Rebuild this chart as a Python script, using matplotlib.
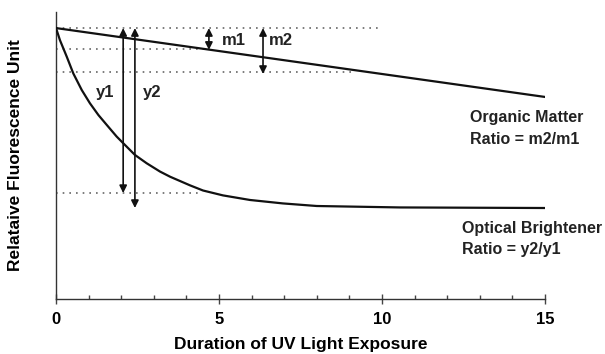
import matplotlib
matplotlib.use('Agg')
from matplotlib import pyplot as plt
from matplotlib.ticker import MultipleLocator

plt.rcParams['font.family'] = ['Liberation Sans', 'DejaVu Sans']
plt.rcParams['font.weight'] = 'bold'

# organic matter decay (straight, slow)
om_x = [0, 2, 4, 6, 8, 10, 12, 14, 15]
om_y = [94.4, 91.2, 88.0, 84.8, 81.6, 78.4, 75.2, 72.0, 70.4]

# optical brightener decay (fast, levels off)
ob_x = [0, 0.12, 0.33, 0.53, 0.79, 1.04, 1.30, 1.56, 1.86, 2.06, 2.42, 2.78,
        3.19, 3.50, 4.11, 4.51, 5.12, 5.95, 6.96, 8.0, 9.02, 10.55, 15]
ob_y = [94.4, 90.2, 84.4, 78.6, 72.8, 68.2, 64.1, 60.6, 56.6, 54.3, 50.2, 47.3,
        44.4, 42.6, 39.6, 37.8, 36.1, 34.5, 33.3, 32.4, 32.2, 31.9, 31.7]

# dotted reference levels and where they stop
ref_levels = [94.4, 87.1, 79.1, 36.9]
ref_ends = [9.95, 4.7, 9.2, 4.42]

# double arrows and their labels
arrow_x = [2.06, 2.42, 4.69, 6.35]
arrow_top = [94.4, 94.4, 94.4, 94.4]
arrow_bot = [36.9, 31.7, 86.8, 78.4]
arrow_lbl = ['y1', 'y2', 'm1', 'm2']
lbl_x = [1.5, 2.94, 5.46, 6.9]
lbl_y = [72.1, 72.1, 89.9, 89.9]

x_ticks = [0, 5, 10, 15]

fig = plt.figure(figsize=(6.05, 3.54), dpi=100)
ax = fig.add_axes([0.0926, 0.1554, 0.8082, 0.8107])

for lvl, xe in zip(ref_levels, ref_ends):
    ax.plot([0, xe], [lvl, lvl], color='#666666', lw=1.2,
            linestyle=(0, (1, 3)), zorder=1)

ax.plot(om_x, om_y, color='#111111', lw=1.6, zorder=3)
ax.plot(ob_x, ob_y, color='#111111', lw=1.6, zorder=3)

for x, t, b, s, lx, ly in zip(arrow_x, arrow_top, arrow_bot, arrow_lbl, lbl_x, lbl_y):
    ax.annotate('', xy=(x, b), xytext=(x, t),
                arrowprops=dict(arrowstyle='<|-|>', color='#111111', lw=1.2,
                                mutation_scale=11, shrinkA=0, shrinkB=0),
                zorder=4)
    ax.text(lx, ly, s, ha='center', va='center', fontsize=12,
            fontweight='bold', color='#222222')

ax.text(12.7, 63.4, 'Organic Matter', ha='left', va='center', fontsize=11.5,
        fontweight='bold', color='#222222', clip_on=False)
ax.text(12.7, 55.4, 'Ratio = m2/m1', ha='left', va='center', fontsize=11.5,
        fontweight='bold', color='#222222', clip_on=False)
ax.text(12.45, 24.7, 'Optical Brightener', ha='left', va='center', fontsize=11.5,
        fontweight='bold', color='#222222', clip_on=False)
ax.text(12.45, 17.1, 'Ratio = y2/y1', ha='left', va='center', fontsize=11.5,
        fontweight='bold', color='#222222', clip_on=False)

ax.set_xlim(0, 15)
ax.set_ylim(0, 100)
ax.set_xticks(x_ticks)
ax.set_xticklabels([str(t) for t in x_ticks], fontsize=12, fontweight='bold')
ax.xaxis.set_minor_locator(MultipleLocator(1))
ax.tick_params(axis='x', which='major', direction='inout', length=7,
               width=1, color='#444444', pad=6)
ax.tick_params(axis='x', which='minor', direction='in', length=3,
               width=1, color='#444444')
ax.set_yticks([])

for side in ['top', 'right']:
    ax.spines[side].set_visible(False)
for side in ['left', 'bottom']:
    ax.spines[side].set_color('#333333')
    ax.spines[side].set_linewidth(1)

ax.set_xlabel('Duration of UV Light Exposure', fontsize=12.5,
              fontweight='bold', labelpad=7)
ax.set_ylabel('Relataive Fluorescence Unit', fontsize=12.5,
              fontweight='bold', labelpad=24)

fig.savefig('out.png', dpi=100)
